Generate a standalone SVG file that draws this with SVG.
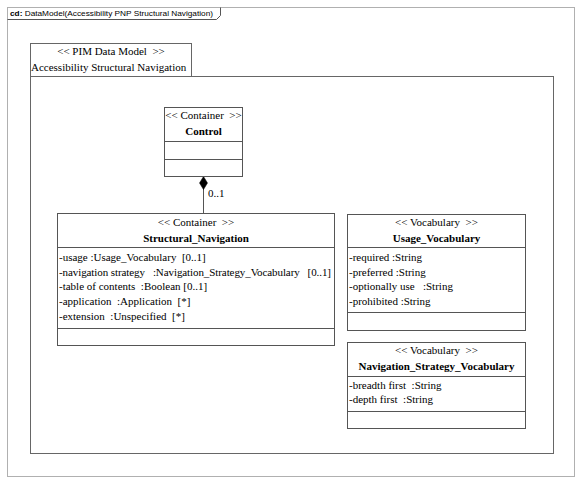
<svg xmlns="http://www.w3.org/2000/svg" width="581" height="483" viewBox="0 0 581 483">
<style>
.frame{fill:#fff;stroke:#b0b0b0;stroke-width:1}
.pkg{fill:#fff;stroke:#666;stroke-width:1}
.box{fill:#fff;stroke:#555;stroke-width:1}
.sep{stroke:#555;stroke-width:1}
text{white-space:pre}
.t{font-family:'Liberation Serif','Times New Roman','DejaVu Serif',serif;font-size:11px;fill:#000}
.b{font-weight:bold}
.m{text-anchor:middle}
.tab{font-family:'Liberation Sans','DejaVu Sans',sans-serif;font-size:8px;fill:#000}
.con{stroke:#555;stroke-width:1;fill:none}
</style>
<rect width="581" height="483" fill="#fff"/>
<g id="frame">
<rect class="frame" x="7.5" y="7.5" width="567" height="469"/>
<path d="M7.5 19.5 H216.5 L220.5 15.5 V7.5" fill="none" stroke="#555"/>
<text class="tab" x="10" y="16" textLength="203" lengthAdjust="spacingAndGlyphs"><tspan font-weight="bold">cd:</tspan> DataModel(Accessibility PNP Structural Navigation)</text>
</g>
<g id="package">
<rect class="pkg" x="30.5" y="43.5" width="161" height="33"/>
<rect class="pkg" x="30.5" y="76.5" width="523" height="377"/>
<text class="t m" x="111" y="55">&lt;&lt; PIM Data Model  &gt;&gt;</text>
<text class="t" x="31" y="71">Accessibility Structural Navigation</text>
</g>
<g id="connectors">
<line class="con" x1="203.5" y1="189" x2="203.5" y2="213.5"/>
<path d="M203.5 176.5 L207.5 183 L203.5 189.5 L199.5 183 Z" fill="#000" stroke="#000" stroke-width="0.5"/>
<text class="t" x="208" y="197">0..1</text>
</g>
<g id="Control">
<rect class="box" x="164.5" y="107.5" width="78" height="69"/>
<text class="t m" x="203.5" y="119">&lt;&lt; Container  &gt;&gt;</text>
<text class="t b m" x="203.5" y="135">Control</text>
<line class="sep" x1="164.5" y1="141.5" x2="242.5" y2="141.5"/>
<line class="sep" x1="164.5" y1="159.5" x2="242.5" y2="159.5"/>
</g>
<g id="Structural_Navigation">
<rect class="box" x="57.5" y="213.5" width="277" height="132"/>
<text class="t m" x="196" y="226">&lt;&lt; Container  &gt;&gt;</text>
<text class="t b m" x="196" y="242">Structural_Navigation</text>
<line class="sep" x1="57.5" y1="247.5" x2="334.5" y2="247.5"/>
<text class="t" x="59" y="261">-usage :Usage_Vocabulary  [0..1]</text>
<text class="t" x="59" y="276" textLength="272" lengthAdjust="spacing">-navigation strategy   :Navigation_Strategy_Vocabulary   [0..1]</text>
<text class="t" x="59" y="290">-table of contents  :Boolean [0..1]</text>
<text class="t" x="59" y="305">-application  :Application  [*]</text>
<text class="t" x="59" y="320">-extension  :Unspecified  [*]</text>
<line class="sep" x1="57.5" y1="328.5" x2="334.5" y2="328.5"/>
</g>
<g id="Usage_Vocabulary">
<rect class="box" x="347.5" y="214.5" width="178" height="116"/>
<text class="t m" x="436.5" y="226">&lt;&lt; Vocabulary  &gt;&gt;</text>
<text class="t b m" x="436.5" y="242">Usage_Vocabulary</text>
<line class="sep" x1="347.5" y1="247.5" x2="525.5" y2="247.5"/>
<text class="t" x="349" y="261">-required :String</text>
<text class="t" x="349" y="276">-preferred :String</text>
<text class="t" x="349" y="290">-optionally use   :String</text>
<text class="t" x="349" y="305">-prohibited :String</text>
<line class="sep" x1="347.5" y1="312.5" x2="525.5" y2="312.5"/>
</g>
<g id="Navigation_Strategy_Vocabulary">
<rect class="box" x="347.5" y="342.5" width="178" height="86"/>
<text class="t m" x="436.5" y="354">&lt;&lt; Vocabulary  &gt;&gt;</text>
<text class="t b m" x="436.5" y="370">Navigation_Strategy_Vocabulary</text>
<line class="sep" x1="347.5" y1="376.5" x2="525.5" y2="376.5"/>
<text class="t" x="349" y="389">-breadth first  :String</text>
<text class="t" x="349" y="403">-depth first  :String</text>
<line class="sep" x1="347.5" y1="411.5" x2="525.5" y2="411.5"/>
</g>
</svg>
